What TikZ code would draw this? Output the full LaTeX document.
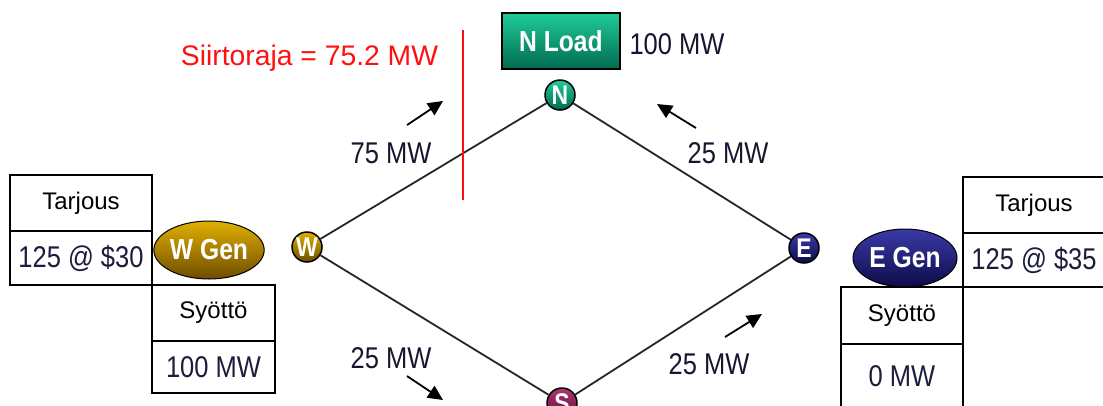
\documentclass[tikz,border=0pt]{standalone}
\usepackage{fontspec}
\setmainfont{Liberation Sans}
\newfontfamily\narrowfont{Liberation Sans}[FakeStretch=0.85]
\usetikzlibrary{shapes}
\usetikzlibrary{arrows.meta}

\definecolor{wtop}{HTML}{E0B000}
\definecolor{wbot}{HTML}{6E4C00}
\definecolor{ntop}{HTML}{1FCC98}
\definecolor{nbot}{HTML}{006A50}
\definecolor{etop}{HTML}{3A3AA8}
\definecolor{ebot}{HTML}{0C0C48}
\definecolor{stop}{HTML}{B03474}
\definecolor{sbot}{HTML}{5E1038}
\definecolor{valcol}{HTML}{1C1C3C}
\definecolor{limitred}{HTML}{FF1010}

\begin{document}
\begin{tikzpicture}[x=1pt,y=-1pt]

  \tikzset{bus/.style = {shape=circle,draw,line width=1.5pt,minimum size=30pt,inner sep=0pt,text=white,
    font=\narrowfont\bfseries\fontsize{27}{27}\selectfont}}
  \tikzset{gen/.style = {shape=ellipse,draw,line width=1pt,inner sep=0pt,minimum width=104pt,minimum height=58pt,
    text=white,font=\narrowfont\bfseries\fontsize{29}{29}\selectfont}}
  \tikzset{cell/.style = {shape=rectangle,draw,line width=2pt,inner sep=0pt}}
  \tikzset{head/.style = {font=\fontsize{24}{24}\selectfont}}
  \tikzset{val/.style = {text=valcol,font=\narrowfont\fontsize{30}{30}\selectfont}}
  \tikzset{mw/.style = {text=valcol!80!black,font=\narrowfont\fontsize{30}{30}\selectfont}}
  \tikzset{edge/.style = {-,line width=1.8pt,draw=black!85}}
  \tikzset{flow/.style = {-{Triangle[length=15pt,width=14pt]},line width=1.8pt}}

  \clip (0,0) rectangle (1103,405);

  % buses
  \node[bus,top color=wtop,bottom color=wbot] (w) at (307,247) {W};
  \node[bus,top color=ntop,bottom color=nbot] (n) at (560,95)  {N};
  \node[bus,top color=etop,bottom color=ebot] (e) at (804,248) {E};
  \node[bus,top color=stop,bottom color=sbot] (s) at (562,403) {S};

  % generators and load
  \node[gen,top color=wtop,bottom color=wbot] (wgen) at (209,250) {W Gen};
  \node[gen,top color=etop,bottom color=ebot] (egen) at (905,258) {E Gen};
  \node[cell,line width=1.5pt,minimum width=118pt,minimum height=56pt,top color=ntop,bottom color=nbot,
    text=white,font=\narrowfont\bfseries\fontsize{29}{29}\selectfont] (nload) at (561,41) {N Load};
  \node[mw] (nmw) at (677,44) {100 MW};

  % tables
  \node[cell,head,minimum width=142pt,minimum height=56pt] (wbid)  at (81,203)    {Tarjous};
  \node[cell,val, minimum width=142pt,minimum height=54pt] (wbidv) at (81,258)    {125 @ \$30};
  \node[cell,head,minimum width=123pt,minimum height=56pt] (wout)  at (213.5,313) {Syöttö};
  \node[cell,val, minimum width=123pt,minimum height=52pt] (woutv) at (213.5,367) {100 MW};
  \node[cell,head,minimum width=142pt,minimum height=56pt] (ebid)  at (1034,205)  {Tarjous};
  \node[cell,val, minimum width=142pt,minimum height=54pt] (ebidv) at (1034,260)  {125 @ \$35};
  \node[cell,head,minimum width=122pt,minimum height=57pt] (eout)  at (902,315.5) {Syöttö};
  \node[cell,val, minimum width=122pt,minimum height=64pt] (eoutv) at (902,376)   {0 MW};

  %edges
  \draw[edge] (w) -- (n);
  \draw[edge] (n) -- (e);
  \draw[edge] (w) -- (s);
  \draw[edge] (s) -- (e);

  % transfer limit
  \coordinate (cuttop) at (463,30);
  \coordinate (cutbot) at (463,200);
  \draw[limitred,line width=2.2pt] (cuttop) -- (cutbot);
  \node[text=limitred,font=\fontsize{28.3}{28.3}\selectfont] (limit) at (309.5,58) {Siirtoraja = 75.2 MW};

  % flows
  \coordinate (f1a) at (407,125); \coordinate (f1b) at (443,101);
  \coordinate (f2a) at (696,128); \coordinate (f2b) at (657,104);
  \coordinate (f3a) at (407,376); \coordinate (f3b) at (443,400);
  \coordinate (f4a) at (725,337); \coordinate (f4b) at (762,314);
  \draw[flow] (f1a) -- (f1b);
  \draw[flow] (f2a) -- (f2b);
  \draw[flow] (f3a) -- (f3b);
  \draw[flow] (f4a) -- (f4b);
  \node[mw] (wn) at (391,153) {75 MW};
  \node[mw] (ne) at (728,153) {25 MW};
  \node[mw] (ws) at (391,358) {25 MW};
  \node[mw] (se) at (709,364) {25 MW};

\end{tikzpicture}
\end{document}
